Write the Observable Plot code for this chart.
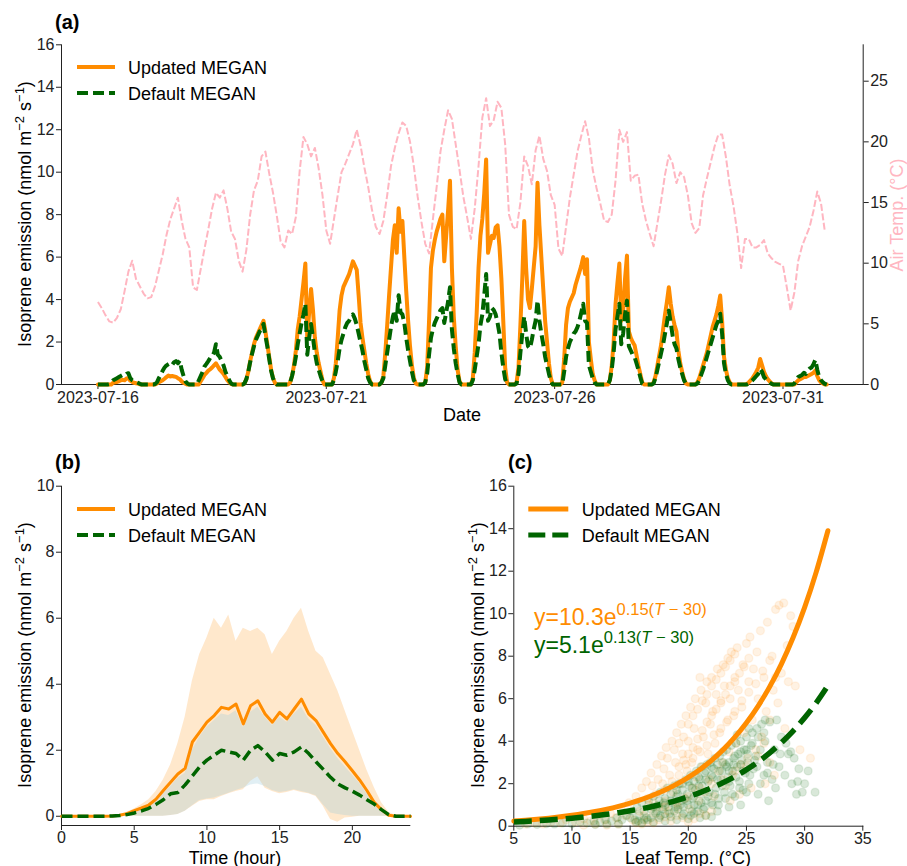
<!DOCTYPE html>
<html><head><meta charset="utf-8">
<script src="https://cdn.jsdelivr.net/npm/d3@7"></script>
<script src="https://cdn.jsdelivr.net/npm/@observablehq/plot@0.6"></script>
<style>
body{margin:0;background:#fff;}
#wrap{position:relative;width:907px;height:866px;background:#fff;overflow:hidden;}
</style></head><body><div id="wrap"></div>
<script>
// ---------------- DATA ----------------
// Panel (a): hourly isoprene emission from 2023-07-16 00:00 (one line per day, 24 values)
const startDate = "2023-07-16";
const updatedMegan = [
0,0,0,0,0,0,0,0,0.08,0.1,0.12,0.15,0.2,0.22,0.2,0.28,0.3,0.18,0.12,0.08,0.06,0.04,0.01,0,
0,0,0,0,0,0,0,0.05,0.1,0.15,0.2,0.27,0.35,0.42,0.38,0.4,0.38,0.36,0.3,0.25,0.15,0.08,0.03,0,
0,0,0,0,0,0,0.15,0.3,0.45,0.55,0.65,0.72,0.8,0.9,1.0,0.85,0.7,0.6,0.5,0.35,0.2,0.1,0.02,0,
0,0,0,0,0,0.05,0.25,0.6,1.1,1.5,1.9,2.2,2.4,2.6,2.8,3.0,2.5,1.9,1.3,0.7,0.3,0.08,0,0,
0,0,0,0,0,0.1,0.4,0.9,1.6,2.6,3.2,4.0,4.8,5.7,2.2,3.4,4.5,3.5,2.2,1.5,1.0,0.6,0.2,0,
0,0,0,0,0.3,1.0,2.2,3.5,4.2,4.6,4.8,5.0,5.2,5.5,5.8,5.6,5.4,4.2,2.9,2.2,1.6,1.0,0.5,0.15,
0,0,0,0,0,0.1,0.4,1.5,2.8,4.2,5.5,6.8,7.5,6.2,8.3,7.2,7.7,6.0,4.4,3.0,1.8,0.9,0.3,0.05,
0,0,0,0,0.1,0.8,3.0,5.5,6.3,6.8,7.2,7.5,7.8,8.0,5.8,7.0,8.2,9.6,5.5,3.2,1.8,0.7,0.15,0,
0,0,0,0,0,0.3,1.5,3.3,5.5,7.0,7.8,9.0,10.6,6.2,6.6,7.0,6.9,7.4,7.5,6.5,5.0,3.0,0.8,0.1,
0,0,0,0,0.1,0.8,2.8,5.0,7.7,5.5,4.0,3.6,4.5,5.5,6.5,9.5,7.5,6.0,4.5,3.0,2.0,1.0,0.3,0,
0,0,0,0,0.1,1.2,2.8,3.6,3.9,4.1,4.3,4.7,5.0,5.3,5.6,6.0,5.2,5.9,2.0,1.2,0.5,0.2,0,0,
0,0,0,0,0,0.2,0.9,2.0,3.8,4.8,5.7,3.0,3.5,5.0,6.07,2.5,2.2,2.0,1.85,1.4,0.9,0.5,0.1,0,
0,0,0,0,0.1,0.4,0.9,1.4,1.9,2.6,3.3,3.9,4.58,3.8,3.2,2.8,2.5,1.6,1.0,0.6,0.25,0.05,0,0,
0,0,0,0.1,0.3,0.6,0.9,1.2,1.5,1.9,2.3,2.7,3.0,3.3,3.7,4.19,3.0,1.3,0.7,0.3,0.1,0,0,0,
0,0,0,0,0,0.02,0.1,0.2,0.3,0.45,0.6,0.8,1.2,0.9,0.6,0.4,0.25,0.15,0.05,0,0,0,0,0,
0,0,0,0,0,0,0,0.1,0.2,0.25,0.3,0.35,0.35,0.4,0.45,0.5,0.55,0.66,0.4,0.2,0.1,0.05,0,0
];
const defaultMegan = [
0,0,0,0,0,0,0.02,0.1,0.2,0.25,0.3,0.35,0.4,0.45,0.42,0.5,0.53,0.3,0.2,0.15,0.12,0.08,0.03,0,
0,0,0,0,0,0,0.02,0.1,0.3,0.45,0.65,0.8,0.9,0.95,1.0,0.92,1.05,1.1,1.0,1.13,0.7,0.4,0.15,0.05,
0,0,0,0,0,0.2,0.4,0.6,0.85,0.97,1.1,1.25,1.3,1.5,1.9,1.4,1.3,1.1,0.9,0.6,0.4,0.2,0.05,0,
0,0,0,0,0,0.05,0.25,0.6,1.05,1.45,1.8,2.1,2.3,2.5,2.6,2.85,2.3,1.8,1.2,0.65,0.3,0.08,0,0,
0,0,0,0,0,0.1,0.4,0.8,1.3,1.9,2.4,2.9,3.3,3.8,1.4,2.2,2.85,2.2,1.5,1.0,0.7,0.4,0.15,0,
0,0,0,0,0.2,0.6,1.1,1.7,2.1,2.4,2.7,2.9,3.0,3.2,3.3,3.1,2.8,2.4,2.0,1.6,1.1,0.7,0.3,0.1,
0,0,0,0,0,0.1,0.3,0.9,1.5,2.1,2.7,3.2,3.5,3.0,4.2,3.4,3.3,2.9,2.2,1.6,1.1,0.6,0.2,0.05,
0,0,0,0,0.1,0.5,1.4,2.2,2.6,2.9,3.1,3.3,3.5,3.6,2.9,3.4,3.9,4.58,2.6,1.7,1.0,0.5,0.1,0,
0,0,0,0,0,0.2,0.7,1.3,1.9,2.8,3.3,4.2,5.2,3.0,3.2,3.6,3.5,3.3,2.9,2.4,1.5,0.8,0.25,0,
0,0,0,0,0.05,0.5,1.5,2.4,3.2,2.4,1.8,1.7,2.1,2.6,3.0,3.95,3.0,2.4,1.9,1.3,0.9,0.5,0.15,0,
0,0,0,0,0,0.6,1.3,1.7,2.0,2.2,2.4,2.5,2.7,3.0,3.4,3.8,3.0,2.9,0.9,0.6,0.3,0.1,0,0,
0,0,0,0,0,0.2,0.7,1.5,2.6,3.2,3.8,1.9,2.4,3.3,3.95,1.8,1.6,1.4,1.3,1.0,0.7,0.35,0.05,0,
0,0,0,0,0.05,0.3,0.7,1.1,1.5,1.9,2.4,2.9,3.48,2.9,2.3,1.9,1.7,1.2,0.8,0.5,0.2,0.03,0,0,
0,0,0,0.05,0.2,0.45,0.7,1.0,1.3,1.6,1.9,2.2,2.5,2.8,3.0,3.33,2.4,1.0,0.5,0.2,0.05,0,0,0,
0,0,0,0,0,0,0.05,0.12,0.2,0.3,0.4,0.5,0.74,0.6,0.35,0.25,0.15,0.08,0.03,0,0,0,0,0,
0,0,0,0,0,0,0.05,0.2,0.35,0.4,0.45,0.55,0.5,0.65,0.75,0.8,0.95,1.16,0.7,0.35,0.2,0.1,0.03,0
];
// Air temperature every 2 hours (12 values per day)
const airTemp = [
6.8,6.3,5.7,5.2,5.1,5.5,6.2,7.7,9.3,10.2,8.7,8.1,
7.5,7.1,7.2,8.1,9.4,10.7,12.3,13.6,14.5,15.4,13.5,12.0,
11.3,8.0,7.8,9.5,11.2,12.8,14.5,15.8,15.4,16.0,14.5,12.6,
12.0,10.2,9.3,11.1,14.0,16.0,16.8,18.8,19.2,17.4,15.8,13.9,
11.8,11.3,12.7,12.4,13.8,17.6,20.4,19.8,18.8,19.5,17.8,15.6,
12.7,11.6,13.6,15.6,17.5,18.2,19.0,19.8,21.0,19.7,17.9,16.3,
14.4,13.0,12.4,13.5,15.6,18.0,19.5,20.7,21.6,21.3,20.0,18.0,
15.5,13.4,11.6,10.8,13.6,16.3,19.2,21.0,22.6,21.9,19.8,17.7,
15.5,13.8,12.0,14.5,18.0,22.0,23.6,21.3,21.8,23.3,22.8,19.8,
14.0,13.0,12.8,15.0,18.8,18.0,16.5,19.3,20.5,18.6,17.6,15.6,
14.8,11.2,10.6,13.0,15.4,17.3,19.2,20.5,21.7,20.3,17.7,16.2,
14.9,13.5,13.4,14.0,16.8,21.0,20.0,20.8,16.8,17.2,17.3,14.9,
13.5,12.4,11.4,13.3,15.2,17.3,18.9,18.2,16.6,17.5,17.1,15.6,
13.3,12.5,12.9,15.6,17.0,18.3,19.6,20.6,20.6,18.75,16.4,14.7,
12.5,9.6,12.0,12.0,11.3,11.3,11.5,11.9,10.8,10.4,10.1,9.95,
9.8,8.0,6.1,7.6,10.2,11.4,12.2,13.0,14.3,15.9,14.9,12.6
];
const dateTicks = ["2023-07-16","2023-07-21","2023-07-26","2023-07-31"];
const emissionTicksA = [0,2,4,6,8,10,12,14,16];
const tempTicks = [0,5,10,15,20,25];

// Panel (b): diurnal cycle, every half hour from 0 h to 24 h
const diurnalUpdated = [0,0,0,0,0,0,0,0.01,0.03,0.08,0.17,0.25,0.34,0.52,0.78,1.03,1.28,1.45,2.25,2.55,2.85,3.05,3.3,3.25,3.4,2.8,3.35,3.5,3.1,2.85,3.15,2.95,3.25,3.55,3.1,2.9,2.55,2.2,1.9,1.65,1.38,1.1,0.78,0.42,0.2,0.03,0,0,0];
const diurnalDefault = [0,0,0,0,0,0,0,0.01,0.02,0.05,0.1,0.16,0.24,0.36,0.5,0.68,0.72,0.95,1.22,1.5,1.7,1.85,2.0,1.95,1.9,1.7,2.0,2.14,1.95,1.7,1.9,1.85,1.95,2.1,1.9,1.65,1.42,1.18,0.98,0.86,0.76,0.64,0.5,0.37,0.2,0.05,0,0,0];
const updatedHigh = [0,0,0,0,0,0,0,0.02,0.05,0.12,0.22,0.35,0.5,0.75,1.1,1.55,2.2,3.0,4.1,4.9,5.4,6.0,5.7,6.1,5.3,5.7,5.6,5.7,5.5,4.9,5.3,5.6,6.0,6.3,5.6,5.0,4.8,4.3,3.8,3.2,2.6,2.0,1.4,0.88,0.42,0.12,0.02,0,0];
const updatedLow = [0,0,0,0,0,0,0,0,0,0,0,0,0,0,0,0.02,0.05,0.15,0.3,0.45,0.5,0.5,0.6,0.68,0.75,0.8,1.05,1.2,0.85,0.75,0.68,0.72,0.78,0.72,0.68,0.6,0.3,-0.1,-0.18,-0.05,-0.03,0,0,0,0,0,0,0,0];
const defaultHigh = [0,0,0,0,0,0,0,0.01,0.03,0.07,0.14,0.22,0.3,0.45,0.68,0.9,1.15,1.3,2.0,2.4,2.7,2.9,3.1,3.05,3.2,2.7,3.15,3.3,3.0,2.75,3.0,2.85,3.1,3.3,2.95,2.75,2.4,2.05,1.75,1.5,1.25,1.0,0.7,0.38,0.18,0.03,0,0,0];
const defaultLow = [0,0,0,0,0,0,0,0,0,0,0,0,0,0,0,0.02,0.05,0.15,0.32,0.48,0.52,0.55,0.62,0.7,0.78,0.85,0.95,0.98,0.9,0.78,0.72,0.75,0.8,0.75,0.7,0.62,0.35,0.1,0.05,0.02,0,0,0,0,0,0,0,0,0];
const hourTicks = [0,5,10,15,20];
const emissionTicksB = [0,2,4,6,8,10];

// Panel (c): emission vs leaf temperature
const updatedScatter = [
[6.0,0.1],[6.8,0.15],[7.5,0.1],[8.2,0.2],[9.0,0.15],[9.5,0.3],[10.3,0.2],[11.0,0.35],[11.6,0.25],[12.2,0.5],[12.8,0.3],[13.3,0.6],[13.8,0.4],[14.2,0.8],[14.6,0.5],[14.9,1.1],
[15.2,0.3],[15.5,1.4],[15.8,0.7],[16.0,1.8],[16.2,0.5],[16.4,2.1],[16.6,1.0],[16.8,2.5],[17.0,0.6],[17.2,1.5],[17.3,2.9],[17.5,0.9],[17.7,3.3],[17.8,2.0],[18.0,1.2],[18.1,3.7],[18.3,0.7],[18.4,2.4],[18.6,4.0],[18.7,1.6],
[18.9,3.0],[19.0,4.4],[19.1,0.9],[19.3,2.0],[19.4,4.8],[19.5,3.4],[19.7,1.3],[19.8,5.2],[19.9,2.6],[20.0,4.0],[20.1,0.8],[20.2,5.6],[20.3,3.0],[20.4,1.8],[20.5,4.6],[20.6,6.0],[20.7,2.3],[20.8,3.6],[20.9,1.2],[21.0,7.0],
[21.1,6.4],[21.2,2.8],[21.3,4.2],[21.4,1.6],[21.5,5.8],[21.6,6.8],[21.7,3.4],[21.8,2.2],[21.9,4.8],[22.0,7.0],[22.1,5.4],[22.2,1.4],[22.3,3.9],[22.4,6.2],[22.5,7.4],[22.6,2.6],[22.7,4.4],[22.8,5.8],[22.9,3.0],[23.0,7.6],
[23.1,6.6],[23.2,1.9],[23.3,4.9],[23.4,7.9],[23.5,3.5],[23.6,6.0],[23.7,8.2],[23.8,2.4],[23.9,5.2],[24.0,7.0],[24.1,3.9],[24.2,8.4],[24.3,6.4],[24.5,2.9],[24.6,5.6],[24.7,7.6],[24.8,4.4],[25.0,8.6],[25.1,3.2],[25.2,6.8],
[25.3,8.9],[25.5,5.0],[25.6,7.4],[25.8,3.6],[25.9,8.2],[26.0,6.0],[26.2,9.2],[26.3,4.2],[26.5,7.0],[26.7,5.4],[26.8,9.6],[27.0,3.0],[27.2,8.0],[27.3,6.4],[27.5,10.2],[27.7,5.8],[27.8,10.4],[28.0,7.2],[28.2,10.5],[28.3,4.6],
[28.6,6.8],[29.0,9.4],[29.2,6.6],[29.6,3.6],[30.5,3.2],[27.4,2.4],[26.6,2.0],[25.4,1.8],[24.4,1.5],[23.6,1.2],
[15.5,0.15],[16.5,0.2],[17.5,0.3],[18.5,0.25],[19.5,0.4],[20.5,0.35],[21.5,0.5],[19.0,0.5],[20.0,0.2],[21.0,0.6],[22.0,0.7],[17.0,0.15],[18.0,0.45],[16.0,0.1],[14.0,0.1],[13.0,0.05],[12.0,0.1],[11.0,0.05],
[16.9,1.9],[17.4,2.2],[17.9,2.7],[18.2,3.2],[18.8,3.6],[19.2,3.9],[19.6,4.2],[20.0,4.8],[20.4,5.2],[20.8,5.5],[21.2,5.9],[21.6,6.2],[22.0,6.6],[22.4,6.9],[22.8,7.2],[23.2,7.5],[23.6,7.8],[24.0,8.1],
[19.2,2.8],[19.6,3.1],[20.0,3.4],[20.4,3.7],[20.8,4.1],[21.2,4.5],[21.6,4.9],[22.0,5.2],[22.4,5.5],[22.8,5.9],[23.2,6.2],[23.6,6.6],[24.0,6.8],[24.4,7.2],[24.8,7.5],[25.2,7.9],
[18.0,1.7],[18.6,2.1],[19.2,2.4],[19.8,2.9],[20.4,3.2],[21.0,3.5],[21.6,3.8],[22.2,4.3],[22.8,4.6],[23.4,5.0],[24.0,5.4],[24.6,5.9],[25.2,6.3],[25.8,6.7],[26.4,7.3],[27.0,7.8],
[16.5,1.3],[17.0,1.1],[18.0,0.9],[19.0,1.1],[20.0,1.4],[21.0,1.8],[22.0,2.0],[23.0,2.2],[24.0,2.6],[25.0,2.8],[26.0,3.3],[26.5,3.9],[27.0,5.0],[27.5,7.0],[28.5,8.5],[28.8,9.9]
];
const defaultScatter = [
[5.5,0.05],[6.2,0.1],[7.0,0.08],[7.8,0.12],[8.5,0.1],[9.2,0.15],[10.0,0.12],[10.7,0.2],[11.3,0.15],[11.9,0.25],[12.4,0.2],[12.9,0.3],[13.4,0.25],[13.9,0.4],[14.3,0.3],[14.7,0.5],
[15.0,0.4],[15.2,0.7],[15.4,0.3],[15.6,0.9],[15.8,0.5],[16.0,1.1],[16.2,0.7],[16.4,0.4],[16.6,1.2],[16.8,0.8],[17.0,1.4],[17.2,0.6],[17.4,1.0],[17.6,1.6],[17.8,0.8],[18.0,1.3],[18.2,1.8],[18.4,0.6],[18.6,1.1],[18.8,1.9],
[19.0,1.4],[19.1,0.8],[19.2,2.0],[19.4,1.2],[19.5,1.7],[19.6,0.6],[19.8,2.2],[19.9,1.5],[20.0,1.0],[20.1,1.9],[20.2,2.4],[20.3,0.7],[20.4,1.3],[20.5,2.1],[20.6,1.7],[20.7,2.6],[20.8,1.0],[20.9,2.3],[21.0,1.5],[21.1,2.8],
[21.2,1.9],[21.3,0.8],[21.4,2.5],[21.5,1.2],[21.6,2.9],[21.7,2.1],[21.8,1.6],[21.9,3.0],[22.0,2.4],[22.1,1.0],[22.2,2.7],[22.3,3.2],[22.4,1.8],[22.5,2.9],[22.6,1.3],[22.7,3.3],[22.8,2.2],[22.9,2.6],[23.0,3.5],[23.1,1.6],
[23.2,2.9],[23.3,3.6],[23.4,2.3],[23.5,3.0],[23.6,1.9],[23.7,3.8],[23.8,2.6],[23.9,3.2],[24.0,1.4],[24.1,3.9],[24.2,2.8],[24.3,3.4],[24.4,2.1],[24.5,4.0],[24.6,3.1],[24.7,1.7],[24.8,3.6],[24.9,2.5],[25.0,4.2],[25.1,3.0],
[25.2,2.0],[25.4,3.8],[25.5,4.4],[25.6,2.7],[25.8,3.3],[25.9,4.6],[26.0,1.5],[26.2,3.6],[26.3,4.8],[26.5,2.4],[26.6,4.0],[26.8,3.0],[27.0,4.9],[27.2,2.2],[27.4,3.6],[27.6,5.0],[27.8,2.8],[28.0,4.2],[27.5,1.8],[26.9,1.2],
[28.3,2.4],[28.6,3.4],[28.9,2.0],[29.1,3.2],[29.3,1.5],[29.5,2.7],[29.8,1.6],[30.0,2.0],[30.3,2.6],[30.9,1.6],[28.8,3.5],[29.4,2.1],
[15.5,0.2],[16.5,0.3],[17.5,0.4],[18.5,0.45],[19.5,0.5],[20.5,0.6],[21.5,0.5],[22.5,0.7],[23.5,0.9],[24.5,1.0],[17.0,0.2],[18.0,0.25],[19.0,0.3],[20.0,0.35],[21.0,0.4],[22.0,0.45],[16.0,0.15],[14.0,0.1],[13.0,0.1],[12.0,0.08],
[17.0,0.9],[17.5,1.2],[18.0,1.0],[18.5,1.5],[19.0,1.7],[19.5,2.0],[20.0,2.1],[20.5,1.4],[21.0,2.2],[21.5,2.6],[22.0,2.8],[22.5,2.2],[23.0,3.0],[23.5,2.6],[24.0,3.3],[24.5,3.5],[25.0,3.6],[25.5,3.9],[26.0,4.2],[26.5,4.4],
[17.3,0.7],[17.9,1.1],[18.5,1.2],[19.1,1.5],[19.7,1.3],[20.3,1.8],[20.9,1.9],[21.5,2.2],[22.1,2.3],[22.7,2.6],[23.3,2.8],[23.9,2.9],[24.5,2.9],[25.1,3.4],[25.7,3.1],
[18.3,0.9],[18.9,0.9],[19.3,1.0],[19.9,1.2],[20.5,1.0],[21.1,1.1],[21.7,1.4],[22.3,1.5],[22.9,1.9],[23.5,2.1],[24.1,2.3],[24.7,2.6],[25.3,2.4],[25.9,2.8],
[20.2,0.5],[20.8,0.7],[21.4,0.9],[22.0,1.1],[22.6,1.0],[23.2,1.3],[23.8,1.5],[24.4,1.8],[25.0,1.6],[19.6,0.9],[18.8,0.7],[18.0,0.6],[17.6,0.5],[16.8,0.4],[16.2,0.3],[15.7,0.25],
[26.2,2.0],[26.8,2.5],[27.3,2.9],[27.9,3.4],[28.4,3.9],[24.2,4.3],[25.2,4.6],[26.6,5.0]
];
const leafTemp = [5,6,7,8,9,10,11,12,13,14,15,16,17,18,19,20,21,22,23,24,25,26,27,28,29,30,31,32];
const updatedFit = [0.242,0.281,0.327,0.380,0.441,0.513,0.596,0.692,0.804,0.934,1.086,1.261,1.466,1.703,1.978,2.298,2.670,3.102,3.604,4.188,4.865,5.653,6.567,7.630,8.865,10.3,11.967,13.904];
const defaultFit = [0.198,0.225,0.256,0.292,0.333,0.379,0.431,0.491,0.559,0.637,0.726,0.826,0.941,1.072,1.220,1.390,1.583,1.803,2.053,2.338,2.662,3.032,3.453,3.933,4.478,5.1,5.808,6.614];
const leafTicks = [5,10,15,20,25,30,35];
const emissionTicksC = [0,2,4,6,8,10,12,14,16];

// ---------------- STYLE ----------------
const FONT = '"Liberation Sans", Arial, Helvetica, sans-serif';
const ORANGE = "#ff8c00", GREEN = "#006400", PINK = "#ffb6c1";
const baseStyle = {fontFamily: FONT, fontSize: "16px", background: "transparent", color: "#222", overflow: "visible"};
const wrap = document.getElementById("wrap");

function place(svg, left, top) {
  svg.style.position = "absolute";
  svg.style.left = left + "px";
  svg.style.top = top + "px";
  wrap.appendChild(svg);
  return svg;
}
function richText(svg, x, y, parts, o = {}) {
  const size = o.size || 18;
  const t = d3.select(svg).append("text")
    .attr("transform", `translate(${x},${y}) rotate(${o.rotate || 0})`)
    .attr("text-anchor", o.anchor || "start")
    .attr("font-family", FONT).attr("font-size", size + "px")
    .attr("font-weight", o.weight || "normal")
    .attr("fill", o.fill || "#000");
  let shift = 0;
  for (const p of parts) {
    const ts = t.append("tspan").text(p.t);
    const target = p.sup ? -(o.raise || 7) : 0;
    if (target !== shift) { ts.attr("dy", target - shift); shift = target; }
    if (p.sup) ts.attr("font-size", (o.supSize || size * 0.72) + "px");
    if (p.italic) ts.attr("font-style", "italic");
  }
  return t;
}
function legend(svg, x0, x1, y, textX, items, o = {}) {
  const s = d3.select(svg);
  items.forEach((it, i) => {
    const yy = y + i * (o.gap || 26);
    s.append("line").attr("x1", x0).attr("x2", x1).attr("y1", yy).attr("y2", yy)
      .attr("stroke", it.color).attr("stroke-width", o.width || 4)
      .attr("stroke-dasharray", it.dash || null);
    s.append("text").attr("x", textX).attr("y", yy + 6.5).attr("font-family", FONT)
      .attr("text-anchor", "start")
      .attr("font-size", "18px").attr("fill", "#000").text(it.label);
  });
}
const emisLabel = [{t: "Isoprene emission (nmol m"}, {t: "\u22122", sup: true}, {t: " s"}, {t: "\u22121", sup: true}, {t: ")"}];

// ---------------- PANEL (a) ----------------
const DAY = 864e5, HOUR = 36e5;
const t0 = Date.parse(startDate + "T00:00:00Z");
const emisRows = updatedMegan.map((v, i) => ({date: new Date(t0 + i * HOUR), upd: v, def: defaultMegan[i]}));
const tempRows = airTemp.map((v, i) => ({date: new Date(t0 + i * 2 * HOUR), t: v}));
const xDomainA = [new Date(t0 - 0.798 * DAY), new Date(t0 + 16.756 * DAY)];
const dimA = {width: 907, height: 430, marginLeft: 61, marginRight: 44.3, marginTop: 44.3, marginBottom: 46};

const a1 = Plot.plot({
  ...dimA, style: baseStyle,
  x: {type: "utc", domain: xDomainA, ticks: dateTicks.map(s => new Date(s + "T00:00:00Z")),
      tickFormat: d3.utcFormat("%Y-%m-%d"), label: null, tickSize: 5, tickPadding: 2, line: true},
  y: {domain: [0, 16], ticks: emissionTicksA, label: null, tickSize: 5, tickPadding: 2, line: true},
  marks: [
    Plot.lineY(emisRows, {x: "date", y: "upd", stroke: ORANGE, strokeWidth: 4}),
    Plot.lineY(emisRows, {x: "date", y: "def", stroke: GREEN, strokeWidth: 4, strokeDasharray: "11,5", strokeLinecap: "butt"})
  ]
});
place(a1, 0, 0);
const a2 = Plot.plot({
  ...dimA, style: baseStyle,
  x: {type: "utc", domain: xDomainA, axis: null},
  y: {domain: [0, 28], axis: "right", ticks: tempTicks, label: null, tickSize: 5, tickPadding: 2, line: true},
  marks: [
    Plot.lineY(tempRows, {x: "date", y: "t", stroke: PINK, strokeWidth: 2, strokeDasharray: "7,2.5", strokeLinecap: "butt"})
  ]
});
place(a2, 0, 0);
richText(a2, 55, 29, [{t: "(a)"}], {size: 20, weight: "bold"});
richText(a2, 31, 214, emisLabel, {rotate: -90, anchor: "middle", size: 18, supSize: 13});
richText(a2, 462, 421, [{t: "Date"}], {anchor: "middle", size: 18});
richText(a2, 903, 215, [{t: "Air Temp. (\u00B0C)"}], {rotate: -90, anchor: "middle", size: 18, fill: PINK});
legend(a2, 77, 115, 67, 128, [
  {label: "Updated MEGAN", color: ORANGE},
  {label: "Default MEGAN", color: GREEN, dash: "11,5"}
]);

// ---------------- PANEL (b) ----------------
const diurnal = diurnalUpdated.map((v, i) => ({
  h: i * 0.5, upd: v, def: diurnalDefault[i],
  uLo: updatedLow[i], uHi: updatedHigh[i], dLo: defaultLow[i], dHi: defaultHigh[i]
}));
const b = Plot.plot({
  width: 453, height: 426, marginLeft: 61, marginRight: 43.7, marginTop: 45.7, marginBottom: 41,
  style: baseStyle,
  x: {domain: [0, 23.95], ticks: hourTicks, label: null, tickSize: 5, tickPadding: 1, line: true},
  y: {domain: [-0.28, 10], ticks: emissionTicksB, label: null, tickSize: 5, tickPadding: 2, line: true},
  marks: [
    Plot.areaY(diurnal, {x: "h", y1: "uLo", y2: "uHi", fill: ORANGE, fillOpacity: 0.2}),
    Plot.areaY(diurnal, {x: "h", y1: "dLo", y2: "dHi", fill: "#9cc9dc", fillOpacity: 0.3}),
    Plot.lineY(diurnal, {x: "h", y: "upd", stroke: ORANGE, strokeWidth: 3}),
    Plot.lineY(diurnal, {x: "h", y: "def", stroke: GREEN, strokeWidth: 3.5, strokeDasharray: "11,5", strokeLinecap: "butt"})
  ]
});
place(b, 0, 440);
richText(b, 55, 29, [{t: "(b)"}], {size: 20, weight: "bold"});
richText(b, 31, 215, emisLabel, {rotate: -90, anchor: "middle", size: 18, supSize: 13});
richText(b, 235, 423.5, [{t: "Time (hour)"}], {anchor: "middle", size: 18});
legend(b, 77, 115, 69, 128, [
  {label: "Updated MEGAN", color: ORANGE},
  {label: "Default MEGAN", color: GREEN, dash: "11,5"}
]);

// ---------------- PANEL (c) ----------------
const fitRows = leafTemp.map((T, i) => ({T, upd: updatedFit[i], def: defaultFit[i]}));
const c = Plot.plot({
  width: 454, height: 426, marginLeft: 60.3, marginRight: 44.7, marginTop: 45.7, marginBottom: 40.3,
  style: baseStyle,
  x: {domain: [5, 35], ticks: leafTicks, label: null, tickSize: 5, tickPadding: 1, line: true},
  y: {domain: [0, 16], ticks: emissionTicksC, label: null, tickSize: 5, tickPadding: 2, line: true},
  marks: [
    Plot.dot(updatedScatter, {x: d => d[0], y: d => d[1], r: 4, fill: ORANGE, fillOpacity: 0.11, stroke: ORANGE, strokeOpacity: 0.08}),
    Plot.dot(defaultScatter, {x: d => d[0], y: d => d[1], r: 4, fill: GREEN, fillOpacity: 0.15, stroke: GREEN, strokeOpacity: 0.08}),
    Plot.lineY(fitRows, {x: "T", y: "upd", stroke: ORANGE, strokeWidth: 5, curve: "natural"}),
    Plot.lineY(fitRows, {x: "T", y: "def", stroke: GREEN, strokeWidth: 5.5, strokeDasharray: "18,8", strokeLinecap: "butt", curve: "natural"})
  ]
});
place(c, 453, 440);
richText(c, 55, 29, [{t: "(c)"}], {size: 20, weight: "bold"});
richText(c, 31, 215, emisLabel, {rotate: -90, anchor: "middle", size: 18, supSize: 13});
richText(c, 235, 423.5, [{t: "Leaf Temp. (\u00B0C)"}], {anchor: "middle", size: 18});
legend(c, 75.3, 115.3, 69, 128.7, [
  {label: "Updated MEGAN", color: ORANGE},
  {label: "Default MEGAN", color: GREEN, dash: "17,7"}
], {width: 5});
richText(c, 81, 185, [{t: "y=10.3e"}, {t: "0.15(", sup: true}, {t: "T", sup: true, italic: true}, {t: " \u2212 30)", sup: true}],
  {size: 23, supSize: 16.5, raise: 10, fill: ORANGE});
richText(c, 81, 213, [{t: "y=5.1e"}, {t: "0.13(", sup: true}, {t: "T", sup: true, italic: true}, {t: " \u2212 30)", sup: true}],
  {size: 23, supSize: 16.5, raise: 10, fill: GREEN});
</script></body></html>
